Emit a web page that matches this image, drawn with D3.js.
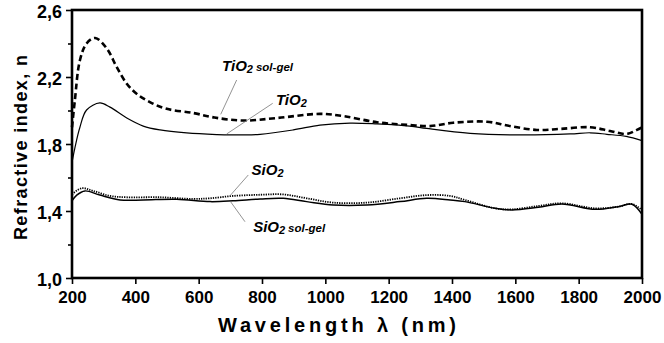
<!DOCTYPE html>
<html>
<head>
<meta charset="utf-8">
<script src="https://cdn.jsdelivr.net/npm/d3@7"></script>
<style>
  html, body { margin: 0; padding: 0; background: #fff; }
  svg { display: block; }
  text { font-family: "Liberation Sans", Arial, sans-serif; }
</style>
</head>
<body>
<svg id="chart" width="664" height="343"></svg>
<script>
// ---------- data ----------
const tio2SolGelNm = [200,209,225,246,273,310,341,373,404,446,499,583,650,740,847,983,1056,1163,1267,1330,1404,1510,1583,1668,1741,1836,1899,1952,1984,2000];
const tio2SolGelN  = [1.90,2.06,2.30,2.40,2.433,2.37,2.26,2.16,2.10,2.05,2.01,1.985,1.958,1.94,1.955,1.98,1.967,1.93,1.913,1.907,1.927,1.933,1.907,1.884,1.89,1.90,1.878,1.86,1.884,1.90];

const tio2Nm = [200,209,225,246,288,320,373,425,478,562,657,699,794,899,983,1078,1163,1267,1320,1457,1615,1773,1836,1889,1950,2000];
const tio2N  = [1.69,1.776,1.90,2.003,2.045,2.02,1.955,1.907,1.884,1.866,1.856,1.854,1.858,1.884,1.913,1.925,1.92,1.907,1.893,1.864,1.854,1.86,1.867,1.858,1.845,1.82];

const sio2Nm = [200,231,267,320,373,478,583,636,709,794,867,941,1025,1131,1236,1320,1394,1441,1536,1589,1673,1747,1852,1925,1968,2000];
const sio2N  = [1.50,1.536,1.52,1.49,1.482,1.482,1.472,1.476,1.49,1.497,1.499,1.476,1.45,1.45,1.476,1.495,1.49,1.466,1.416,1.41,1.43,1.446,1.416,1.426,1.442,1.406];

const sio2SolGelNm = [200,215,241,288,352,425,531,636,709,794,867,941,1025,1131,1236,1320,1394,1441,1536,1589,1673,1747,1852,1925,1968,2000];
const sio2SolGelN  = [1.46,1.495,1.52,1.495,1.466,1.466,1.47,1.456,1.461,1.472,1.476,1.456,1.436,1.436,1.456,1.476,1.466,1.456,1.416,1.406,1.422,1.442,1.41,1.426,1.44,1.38];

const xTicks = [200,400,600,800,1000,1200,1400,1600,1800,2000];
const yMajorTicks = [1.0,1.4,1.8,2.2,2.6];
const yMinorTicks = [1.2,1.6,2.0,2.4];
const yTickLabels = ["1,0","1,4","1,8","2,2","2,6"];

// annotation anchors in data units: [labelNm, labelN, lineNm1, lineN1, lineNm2, lineN2]
const annTio2SolGel = [674, 2.236, 720, 2.182, 669.6, 1.977];
const annTio2       = [844, 2.033, 833.8, 2.043, 688.5, 1.860];
const annSio2       = [767, 1.615, 756.7, 1.615, 701, 1.4955];
const annSio2SolGel = [772, 1.2746, 701, 1.455, 746.3, 1.336];

// ---------- chart ----------
const svg = d3.select("#chart");
const x = d3.scaleLinear().domain([200, 2000]).range([72, 642]);
const y = d3.scaleLinear().domain([1.0, 2.6]).range([278, 10]);

const line = d3.line().x(d => x(d[0])).y(d => y(d[1])).curve(d3.curveCatmullRom.alpha(0.5));
const zip = (a, b) => a.map((v, i) => [v, b[i]]);

// series
svg.append("path").attr("d", line(zip(tio2Nm, tio2N)))
  .attr("fill", "none").attr("stroke", "#000").attr("stroke-width", 1.2);
svg.append("path").attr("d", line(zip(tio2SolGelNm, tio2SolGelN)))
  .attr("fill", "none").attr("stroke", "#000").attr("stroke-width", 2.6)
  .attr("stroke-dasharray", "6,3.5");
svg.append("path").attr("d", line(zip(sio2SolGelNm, sio2SolGelN)))
  .attr("fill", "none").attr("stroke", "#000").attr("stroke-width", 1.5);
svg.append("path").attr("d", line(zip(sio2Nm, sio2N)))
  .attr("fill", "none").attr("stroke", "#000").attr("stroke-width", 1.8)
  .attr("stroke-dasharray", "1.3,1.1");

// frame
svg.append("rect").attr("x", x(200)).attr("y", y(2.6))
  .attr("width", x(2000) - x(200)).attr("height", y(1.0) - y(2.6))
  .attr("fill", "none").attr("stroke", "#000").attr("stroke-width", 2.6);

// axes
const xAxis = d3.axisBottom(x).tickValues(xTicks).tickSize(6).tickPadding(6).tickFormat(d3.format("d"));
const gx = svg.append("g").attr("transform", `translate(0,${y(1.0)})`).call(xAxis);
const yAxis = d3.axisLeft(y).tickValues(yMajorTicks).tickSize(6).tickPadding(4)
  .tickFormat((d, i) => yTickLabels[i]);
const gy = svg.append("g").attr("transform", `translate(${x(200)},0)`).call(yAxis);
const gy2 = svg.append("g").attr("transform", `translate(${x(200)},0)`)
  .call(d3.axisLeft(y).tickValues(yMinorTicks).tickSize(4).tickFormat(""));
[gx, gy, gy2].forEach(g => {
  g.select(".domain").remove();
  g.selectAll(".tick line").attr("stroke", "#000").attr("stroke-width", 1.6);
  g.selectAll(".tick text").attr("fill", "#000")
    .style("font-family", "'Liberation Sans', Arial, sans-serif")
    .style("font-weight", "bold").style("font-size", "17px");
});
gy.selectAll(".tick text").attr("dy", "0.42em").style("font-size", "18px");
gx.selectAll(".tick text").attr("dy", "0.75em");

// axis titles
svg.append("text")
  .attr("x", 218).attr("y", 332)
  .attr("textLength", 238).attr("lengthAdjust", "spacing")
  .style("font-weight", "bold").style("font-size", "20px")
  .text("Wavelength λ (nm)");
svg.append("text")
  .attr("transform", "translate(27,240) rotate(-90)")
  .attr("x", 0).attr("y", 0)
  .attr("textLength", 185).attr("lengthAdjust", "spacing")
  .style("font-weight", "bold").style("font-size", "18px")
  .text("Refractive index, n");

// annotations
function annotate(a, main, sub) {
  svg.append("line")
    .attr("x1", x(a[2])).attr("y1", y(a[3]))
    .attr("x2", x(a[4])).attr("y2", y(a[5]))
    .attr("stroke", "#777").attr("stroke-width", 0.8);
  const t = svg.append("text").attr("x", x(a[0])).attr("y", y(a[1]))
    .style("font-weight", "bold").style("font-style", "italic").style("font-size", "15px");
  t.append("tspan").text(main);
  t.append("tspan").attr("dy", 2).style("font-size", "11px").text("2");
  if (sub) t.append("tspan").attr("dy", -2).attr("dx", 3).style("font-size", "11.5px").text(sub);
}
annotate(annTio2SolGel, "TiO", "sol-gel");
annotate(annTio2, "TiO", null);
annotate(annSio2, "SiO", null);
annotate(annSio2SolGel, "SiO", "sol-gel");
</script>
</body>
</html>
